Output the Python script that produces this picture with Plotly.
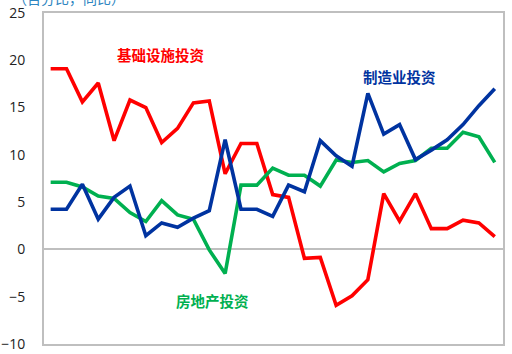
import plotly.graph_objects as go

# 同比增速（%），按期排列
periods = list(range(29))
infrastructure = [19.1, 19.1, 15.6, 17.6, 11.5, 15.8, 15.0, 11.3, 12.8, 15.5, 15.7, 8.0,
                  11.2, 11.2, 5.8, 5.5, -0.95, -0.85, -5.9, -4.9, -3.2, 5.9, 3.0, 5.9,
                  2.2, 2.2, 3.1, 2.8, 1.35]
manufacturing = [4.25, 4.25, 6.9, 3.2, 5.5, 6.7, 1.45, 2.8, 2.35, 3.3, 4.1, 11.6,
                 4.25, 4.25, 3.5, 6.8, 6.1, 11.5, 9.9, 8.8, 16.5, 12.2, 13.2, 9.5,
                 10.5, 11.6, 13.2, 15.2, 17.0]
real_estate = [7.1, 7.1, 6.6, 5.65, 5.4, 3.9, 2.95, 5.15, 3.65, 3.2, -0.05, -2.55,
               6.8, 6.8, 8.6, 7.85, 7.85, 6.7, 9.45, 9.2, 9.4, 8.2, 9.1, 9.4,
               10.7, 10.7, 12.4, 11.9, 9.2]

y_ticks = [-10, -5, 0, 5, 10, 15, 20, 25]

RED = "#FF0000"
BLUE = "#0033A0"
GREEN = "#00B050"
FRAME = "#BFBFBF"
CJK = "Noto Sans CJK SC"

fig = go.Figure()
for name, vals, color in [
    ("基础设施投资", infrastructure, RED),
    ("房地产投资", real_estate, GREEN),
    ("制造业投资", manufacturing, BLUE),
]:
    fig.add_trace(go.Scatter(x=periods, y=vals, mode="lines", name=name,
                             line=dict(color=color, width=3.6), showlegend=False))

labels = [
    ("基础设施投资", 6.9, 20.6, RED),
    ("制造业投资", 22.0, 18.3, BLUE),
    ("房地产投资", 10.2, -5.45, GREEN),
]
for text, x, y, color in labels:
    fig.add_annotation(x=x, y=y, text=f"<b>{text}</b>", showarrow=False,
                       font=dict(family=CJK, size=14.5, color=color))

fig.add_annotation(xref="paper", yref="paper", x=-0.072, y=1.008,
                   xanchor="left", yanchor="bottom", showarrow=False,
                   text="（百分比，同比）",
                   font=dict(family=CJK, size=14, color="#2E86C1"))

fig.update_layout(
    width=512, height=354,
    margin=dict(l=44, r=9, t=13, b=10),
    paper_bgcolor="white", plot_bgcolor="white",
    xaxis=dict(range=[-0.42, 28.52], showticklabels=False, showgrid=False,
               zeroline=False, showline=True, mirror=True, automargin=False,
               linecolor=FRAME, linewidth=2, ticks=""),
    yaxis=dict(range=[-10, 25], tickvals=y_ticks, showgrid=False,
               zeroline=True, zerolinecolor=FRAME, zerolinewidth=2,
               showline=True, mirror=True, linecolor=FRAME, linewidth=2,
               ticks="", ticklabelstandoff=14, automargin=False,
               tickfont=dict(family="Open Sans", size=14, color="#222222")),
)

fig.write_html("out.html")
